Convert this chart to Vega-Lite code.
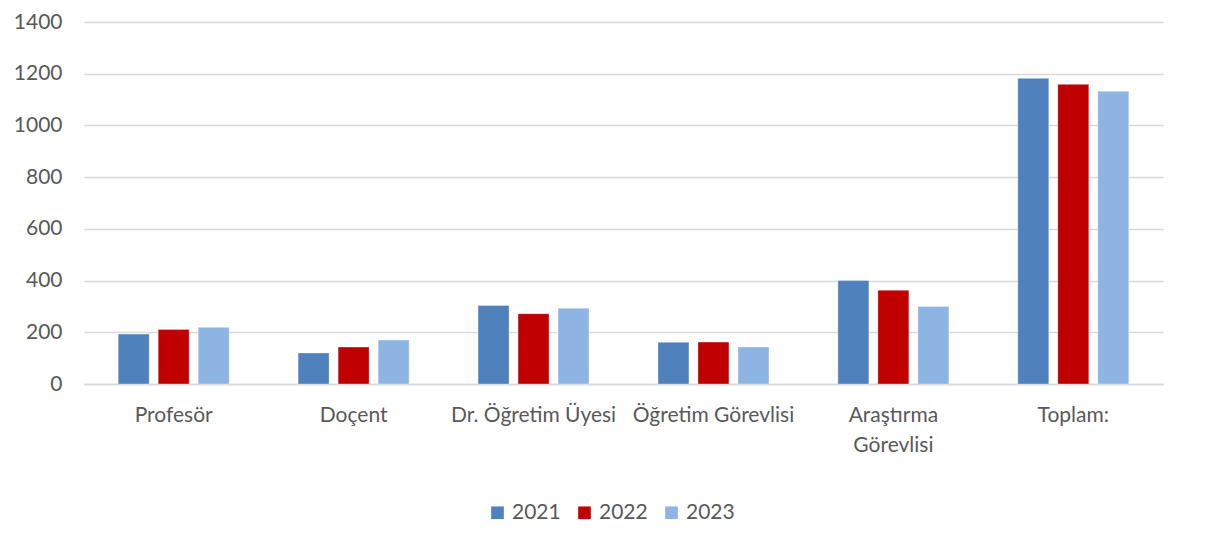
{
  "$schema": "https://vega.github.io/schema/vega-lite/v6.json",
  "autosize": {"type": "none"},
  "width": 1079,
  "height": 362,
  "padding": {"left": 84, "top": 22, "right": 45, "bottom": 160},
  "background": "white",
  "data": {"values": [
    {"kategori": "Profesör", "yil": "2021", "deger": 193},
    {"kategori": "Profesör", "yil": "2022", "deger": 211},
    {"kategori": "Profesör", "yil": "2023", "deger": 219},
    {"kategori": "Doçent", "yil": "2021", "deger": 120},
    {"kategori": "Doçent", "yil": "2022", "deger": 143},
    {"kategori": "Doçent", "yil": "2023", "deger": 170},
    {"kategori": "Dr. Öğretim Üyesi", "yil": "2021", "deger": 304},
    {"kategori": "Dr. Öğretim Üyesi", "yil": "2022", "deger": 272},
    {"kategori": "Dr. Öğretim Üyesi", "yil": "2023", "deger": 293},
    {"kategori": "Öğretim Görevlisi", "yil": "2021", "deger": 161},
    {"kategori": "Öğretim Görevlisi", "yil": "2022", "deger": 162},
    {"kategori": "Öğretim Görevlisi", "yil": "2023", "deger": 143},
    {"kategori": "Araştırma Görevlisi", "yil": "2021", "deger": 400},
    {"kategori": "Araştırma Görevlisi", "yil": "2022", "deger": 363},
    {"kategori": "Araştırma Görevlisi", "yil": "2023", "deger": 300},
    {"kategori": "Toplam:", "yil": "2021", "deger": 1182},
    {"kategori": "Toplam:", "yil": "2022", "deger": 1159},
    {"kategori": "Toplam:", "yil": "2023", "deger": 1132}
  ]},
  "mark": {"type": "bar", "strokeWidth": 1, "strokeOpacity": 0.35, "stroke": "white"},
  "encoding": {
    "x": {
      "field": "kategori", "type": "nominal", "sort": null,
      "scale": {"paddingInner": 0.383, "paddingOuter": 0.19},
      "axis": {
        "title": null, "labelAngle": 0, "ticks": false,
        "domain": true, "domainColor": "#d9d9d9", "domainWidth": 1.5,
        "labelPadding": 20, "labelFontSize": 21, "labelColor": "#595959",
        "labelFont": "Lato", "labelLimit": 300, "labelLineHeight": 30,
        "labelExpr": "datum.label == 'Araştırma Görevlisi' ? ['Araştırma', 'Görevlisi'] : datum.label"
      }
    },
    "xOffset": {"field": "yil", "type": "nominal", "scale": {"paddingInner": 0.225, "paddingOuter": 0}},
    "y": {
      "field": "deger", "type": "quantitative",
      "scale": {"domain": [0, 1400], "nice": false},
      "axis": {
        "title": null, "values": [0, 200, 400, 600, 800, 1000, 1200, 1400],
        "format": "d",
        "domain": false, "ticks": false, "labelPadding": 22,
        "labelFontSize": 21, "labelColor": "#595959", "labelFont": "Lato",
        "gridColor": "#d9d9d9", "gridWidth": 1.5
      }
    },
    "color": {
      "field": "yil", "type": "nominal",
      "scale": {"domain": ["2021", "2022", "2023"], "range": ["#4F81BD", "#C00000", "#8EB4E3"]},
      "legend": {
        "title": null, "orient": "none", "direction": "horizontal",
        "legendX": 403, "legendY": 480,
        "symbolType": "square", "symbolSize": 160, "symbolStrokeWidth": 0,
        "labelFontSize": 21, "labelColor": "#595959", "labelFont": "Lato",
        "labelOffset": 4, "columnPadding": 13
      }
    }
  },
  "config": {"view": {"stroke": null}}
}
